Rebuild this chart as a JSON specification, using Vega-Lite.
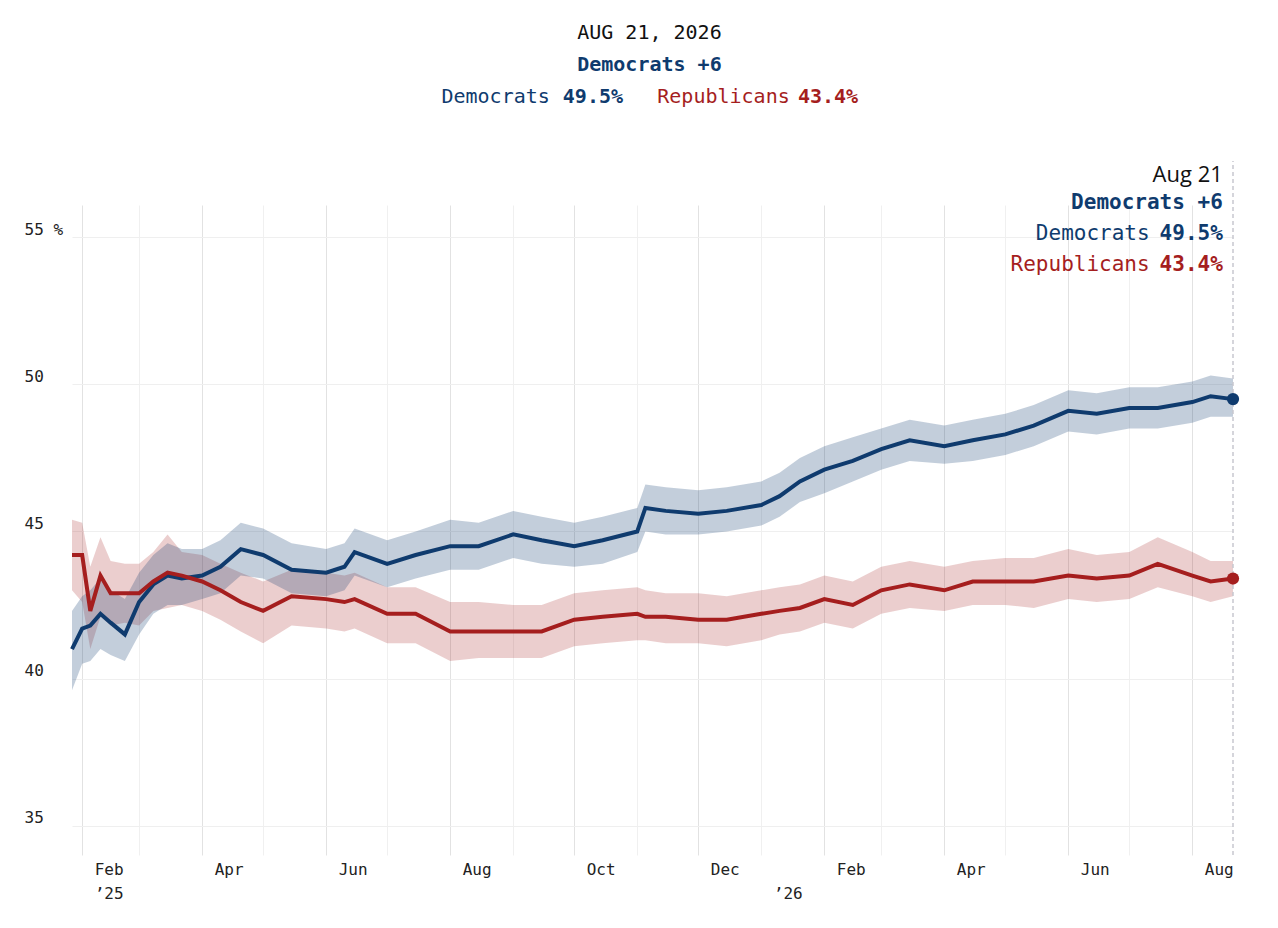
{
  "$schema": "https://vega.github.io/schema/vega-lite/v6.json",
  "width": 1161,
  "height": 650,
  "autosize": "none",
  "padding": {"left": 72, "top": 205, "right": 45, "bottom": 73},
  "config": {
    "font": "DejaVu Sans Mono",
    "view": {"stroke": null},
    "text": {"font": "DejaVu Sans Mono"}
  },
  "datasets": {
    "poll": [
      {"date": "2025-01-27", "dem": 41.0, "dlo": 39.6, "dhi": 42.3, "rep": 44.2, "rlo": 43.0, "rhi": 45.4},
      {"date": "2025-02-01", "dem": 41.7, "dlo": 40.5, "dhi": 42.8, "rep": 44.2, "rlo": 42.6, "rhi": 45.3},
      {"date": "2025-02-05", "dem": 41.8, "dlo": 40.6, "dhi": 43.0, "rep": 42.3, "rlo": 41.0, "rhi": 43.8},
      {"date": "2025-02-10", "dem": 42.2, "dlo": 41.0, "dhi": 43.4, "rep": 43.5, "rlo": 42.1, "rhi": 44.8},
      {"date": "2025-02-15", "dem": 41.9, "dlo": 40.8, "dhi": 43.0, "rep": 42.9, "rlo": 41.8, "rhi": 44.0},
      {"date": "2025-02-22", "dem": 41.5, "dlo": 40.6, "dhi": 42.7, "rep": 42.9, "rlo": 41.9, "rhi": 43.9},
      {"date": "2025-03-01", "dem": 42.6, "dlo": 41.5, "dhi": 43.6, "rep": 42.9, "rlo": 41.8, "rhi": 43.9},
      {"date": "2025-03-08", "dem": 43.2, "dlo": 42.2, "dhi": 44.2, "rep": 43.3, "rlo": 42.3, "rhi": 44.3},
      {"date": "2025-03-15", "dem": 43.5, "dlo": 42.5, "dhi": 44.6, "rep": 43.6, "rlo": 42.4, "rhi": 44.9},
      {"date": "2025-03-22", "dem": 43.4, "dlo": 42.5, "dhi": 44.4, "rep": 43.5, "rlo": 42.5, "rhi": 44.3},
      {"date": "2025-04-01", "dem": 43.5, "dlo": 42.7, "dhi": 44.4, "rep": 43.3, "rlo": 42.3, "rhi": 44.2},
      {"date": "2025-04-10", "dem": 43.8, "dlo": 42.9, "dhi": 44.7, "rep": 43.0, "rlo": 42.0, "rhi": 43.9},
      {"date": "2025-04-20", "dem": 44.4, "dlo": 43.5, "dhi": 45.3, "rep": 42.6, "rlo": 41.6, "rhi": 43.6},
      {"date": "2025-05-01", "dem": 44.2, "dlo": 43.4, "dhi": 45.1, "rep": 42.3, "rlo": 41.2, "rhi": 43.3},
      {"date": "2025-05-15", "dem": 43.7, "dlo": 42.9, "dhi": 44.6, "rep": 42.8, "rlo": 41.8, "rhi": 43.7},
      {"date": "2025-06-01", "dem": 43.6, "dlo": 42.8, "dhi": 44.4, "rep": 42.7, "rlo": 41.7, "rhi": 43.6},
      {"date": "2025-06-10", "dem": 43.8, "dlo": 43.0, "dhi": 44.6, "rep": 42.6, "rlo": 41.6, "rhi": 43.5},
      {"date": "2025-06-15", "dem": 44.3, "dlo": 43.5, "dhi": 45.1, "rep": 42.7, "rlo": 41.7, "rhi": 43.6},
      {"date": "2025-07-01", "dem": 43.9, "dlo": 43.1, "dhi": 44.7, "rep": 42.2, "rlo": 41.2, "rhi": 43.1},
      {"date": "2025-07-15", "dem": 44.2, "dlo": 43.4, "dhi": 45.0, "rep": 42.2, "rlo": 41.2, "rhi": 43.1},
      {"date": "2025-08-01", "dem": 44.5, "dlo": 43.7, "dhi": 45.4, "rep": 41.6, "rlo": 40.6, "rhi": 42.6},
      {"date": "2025-08-15", "dem": 44.5, "dlo": 43.7, "dhi": 45.3, "rep": 41.6, "rlo": 40.7, "rhi": 42.6},
      {"date": "2025-09-01", "dem": 44.9, "dlo": 44.1, "dhi": 45.7, "rep": 41.6, "rlo": 40.7, "rhi": 42.5},
      {"date": "2025-09-15", "dem": 44.7, "dlo": 43.9, "dhi": 45.5, "rep": 41.6, "rlo": 40.7, "rhi": 42.5},
      {"date": "2025-10-01", "dem": 44.5, "dlo": 43.8, "dhi": 45.3, "rep": 42.0, "rlo": 41.1, "rhi": 42.9},
      {"date": "2025-10-15", "dem": 44.7, "dlo": 43.9, "dhi": 45.5, "rep": 42.1, "rlo": 41.2, "rhi": 43.0},
      {"date": "2025-11-01", "dem": 45.0, "dlo": 44.3, "dhi": 45.8, "rep": 42.2, "rlo": 41.3, "rhi": 43.1},
      {"date": "2025-11-05", "dem": 45.8, "dlo": 45.0, "dhi": 46.6, "rep": 42.1, "rlo": 41.3, "rhi": 43.0},
      {"date": "2025-11-15", "dem": 45.7, "dlo": 44.9, "dhi": 46.5, "rep": 42.1, "rlo": 41.2, "rhi": 42.9},
      {"date": "2025-12-01", "dem": 45.6, "dlo": 44.9, "dhi": 46.4, "rep": 42.0, "rlo": 41.2, "rhi": 42.9},
      {"date": "2025-12-15", "dem": 45.7, "dlo": 45.0, "dhi": 46.5, "rep": 42.0, "rlo": 41.1, "rhi": 42.8},
      {"date": "2026-01-01", "dem": 45.9, "dlo": 45.2, "dhi": 46.7, "rep": 42.2, "rlo": 41.3, "rhi": 43.0},
      {"date": "2026-01-10", "dem": 46.2, "dlo": 45.5, "dhi": 47.0, "rep": 42.3, "rlo": 41.5, "rhi": 43.1},
      {"date": "2026-01-20", "dem": 46.7, "dlo": 46.0, "dhi": 47.5, "rep": 42.4, "rlo": 41.6, "rhi": 43.2},
      {"date": "2026-02-01", "dem": 47.1, "dlo": 46.3, "dhi": 47.9, "rep": 42.7, "rlo": 41.9, "rhi": 43.5},
      {"date": "2026-02-15", "dem": 47.4, "dlo": 46.7, "dhi": 48.2, "rep": 42.5, "rlo": 41.7, "rhi": 43.3},
      {"date": "2026-03-01", "dem": 47.8, "dlo": 47.1, "dhi": 48.5, "rep": 43.0, "rlo": 42.2, "rhi": 43.8},
      {"date": "2026-03-15", "dem": 48.1, "dlo": 47.4, "dhi": 48.8, "rep": 43.2, "rlo": 42.4, "rhi": 44.0},
      {"date": "2026-04-01", "dem": 47.9, "dlo": 47.3, "dhi": 48.6, "rep": 43.0, "rlo": 42.3, "rhi": 43.8},
      {"date": "2026-04-15", "dem": 48.1, "dlo": 47.4, "dhi": 48.8, "rep": 43.3, "rlo": 42.5, "rhi": 44.0},
      {"date": "2026-05-01", "dem": 48.3, "dlo": 47.6, "dhi": 49.0, "rep": 43.3, "rlo": 42.5, "rhi": 44.1},
      {"date": "2026-05-15", "dem": 48.6, "dlo": 47.9, "dhi": 49.3, "rep": 43.3, "rlo": 42.4, "rhi": 44.1},
      {"date": "2026-06-01", "dem": 49.1, "dlo": 48.4, "dhi": 49.8, "rep": 43.5, "rlo": 42.7, "rhi": 44.4},
      {"date": "2026-06-15", "dem": 49.0, "dlo": 48.3, "dhi": 49.7, "rep": 43.4, "rlo": 42.6, "rhi": 44.2},
      {"date": "2026-07-01", "dem": 49.2, "dlo": 48.5, "dhi": 49.9, "rep": 43.5, "rlo": 42.7, "rhi": 44.3},
      {"date": "2026-07-15", "dem": 49.2, "dlo": 48.5, "dhi": 49.9, "rep": 43.9, "rlo": 43.1, "rhi": 44.8},
      {"date": "2026-08-01", "dem": 49.4, "dlo": 48.7, "dhi": 50.1, "rep": 43.5, "rlo": 42.8, "rhi": 44.3},
      {"date": "2026-08-10", "dem": 49.6, "dlo": 48.9, "dhi": 50.3, "rep": 43.3, "rlo": 42.6, "rhi": 44.0},
      {"date": "2026-08-21", "dem": 49.5, "dlo": 48.9, "dhi": 50.2, "rep": 43.4, "rlo": 42.8, "rhi": 44.0}
    ],
    "one": [{}]
  },
  "layer": [
    {
      "data": {"name": "poll"},
      "mark": {"type": "area", "interpolate": "linear", "color": "#a51e1e", "opacity": 0.22},
      "encoding": {
        "x": {
          "field": "date", "type": "temporal",
          "scale": {"domain": ["2025-01-27", "2026-08-21"]},
          "axis": {
            "title": null, "domain": false, "ticks": false,
            "tickCount": {"interval": "month", "step": 1},
            "labelFontSize": 16, "labelColor": "#222", "labelAlign": "left", "labelOffset": 12, "labelPadding": 6,
            "labelLineHeight": 24,
            "gridColor": {"condition": {"test": "month(datum.value) % 2 == 1", "value": "#e2e2e2"}, "value": "#f0f0f0"},
            "labelExpr": "month(datum.value) == 1 && year(datum.value) == 2025 ? ['Feb', '\\u2019' + '25'] : (month(datum.value) == 0 && year(datum.value) == 2026 ? ['', '\\u2019' + '26'] : (month(datum.value) % 2 == 1 ? timeFormat(datum.value, '%b') : ''))"
          }
        },
        "y": {
          "field": "rlo", "type": "quantitative",
          "scale": {"domain": [34, 56.1], "nice": false, "zero": false},
          "axis": {
            "title": null, "domain": false, "ticks": false, "values": [35, 40, 45, 50, 55],
            "labelAlign": "left", "labelPadding": 48, "labelBaseline": "bottom",
            "labelFontSize": 16, "labelColor": "#222", "gridColor": "#efefef",
            "labelExpr": "datum.value == 55 ? '55 %' : datum.label"
          }
        },
        "y2": {"field": "rhi"}
      }
    },
    {"data": {"name": "poll"}, "mark": {"type": "area", "interpolate": "linear", "color": "#0f3b6e", "opacity": 0.25},
     "encoding": {"x": {"field": "date", "type": "temporal"}, "y": {"field": "dlo", "type": "quantitative"}, "y2": {"field": "dhi"}}},
    {"data": {"name": "poll"}, "mark": {"type": "line", "interpolate": "linear", "color": "#0f3b6e", "strokeWidth": 4},
     "encoding": {"x": {"field": "date", "type": "temporal"}, "y": {"field": "dem", "type": "quantitative"}}},
    {"data": {"name": "poll"}, "mark": {"type": "line", "interpolate": "linear", "color": "#a51e1e", "strokeWidth": 4},
     "encoding": {"x": {"field": "date", "type": "temporal"}, "y": {"field": "rep", "type": "quantitative"}}},
    {"data": {"name": "one"}, "mark": {"type": "rule", "color": "#c8c8d0", "strokeDash": [4, 3], "strokeWidth": 1.5, "clip": false},
     "encoding": {"x": {"datum": {"year": 2026, "month": 8, "date": 21}, "type": "temporal"}, "y": {"datum": 34, "type": "quantitative"}, "y2": {"datum": 57.6}}},
    {"data": {"name": "one"}, "mark": {"type": "point", "filled": true, "size": 150, "opacity": 1, "color": "#0f3b6e"},
     "encoding": {"x": {"datum": {"year": 2026, "month": 8, "date": 21}, "type": "temporal"}, "y": {"datum": 49.5, "type": "quantitative"}}},
    {"data": {"name": "one"}, "mark": {"type": "point", "filled": true, "size": 150, "opacity": 1, "color": "#a51e1e"},
     "encoding": {"x": {"datum": {"year": 2026, "month": 8, "date": 21}, "type": "temporal"}, "y": {"datum": 43.4, "type": "quantitative"}}},
    {"data": {"name": "one"}, "mark": {"type": "text", "fontSize": 22, "align": "right", "baseline": "middle", "color": "#111", "font": "Open Sans"},
     "encoding": {"x": {"datum": {"year": 2026, "month": 8, "date": 16}, "type": "temporal"}, "y": {"datum": 57.11, "type": "quantitative"}, "text": {"value": "Aug 21"}}},
    {"data": {"name": "one"}, "mark": {"type": "text", "fontSize": 21, "fontWeight": "bold", "align": "right", "baseline": "middle", "color": "#0f3b6e"},
     "encoding": {"x": {"datum": {"year": 2026, "month": 8, "date": 16}, "type": "temporal"}, "y": {"datum": 56.16, "type": "quantitative"}, "text": {"value": "Democrats +6"}}},
    {"data": {"name": "one"}, "mark": {"type": "text", "fontSize": 21, "fontWeight": "bold", "align": "right", "baseline": "middle", "color": "#0f3b6e"},
     "encoding": {"x": {"datum": {"year": 2026, "month": 8, "date": 16}, "type": "temporal"}, "y": {"datum": 55.1, "type": "quantitative"}, "text": {"value": "49.5%"}}},
    {"data": {"name": "one"}, "mark": {"type": "text", "fontSize": 21, "align": "right", "baseline": "middle", "color": "#0f3b6e"},
     "encoding": {"x": {"datum": {"year": 2026, "month": 7, "date": 11}, "type": "temporal"}, "y": {"datum": 55.1, "type": "quantitative"}, "text": {"value": "Democrats"}}},
    {"data": {"name": "one"}, "mark": {"type": "text", "fontSize": 21, "fontWeight": "bold", "align": "right", "baseline": "middle", "color": "#a51e1e"},
     "encoding": {"x": {"datum": {"year": 2026, "month": 8, "date": 16}, "type": "temporal"}, "y": {"datum": 54.05, "type": "quantitative"}, "text": {"value": "43.4%"}}},
    {"data": {"name": "one"}, "mark": {"type": "text", "fontSize": 21, "align": "right", "baseline": "middle", "color": "#a51e1e"},
     "encoding": {"x": {"datum": {"year": 2026, "month": 7, "date": 11}, "type": "temporal"}, "y": {"datum": 54.05, "type": "quantitative"}, "text": {"value": "Republicans"}}},
    {"data": {"name": "one"}, "mark": {"type": "text", "fontSize": 20, "align": "center", "baseline": "middle", "color": "#111"},
     "encoding": {"x": {"datum": {"year": 2025, "month": 11, "date": 7}, "type": "temporal"}, "y": {"datum": 61.94, "type": "quantitative"}, "text": {"value": "AUG 21, 2026"}}},
    {"data": {"name": "one"}, "mark": {"type": "text", "fontSize": 20, "fontWeight": "bold", "align": "center", "baseline": "middle", "color": "#0f3b6e"},
     "encoding": {"x": {"datum": {"year": 2025, "month": 11, "date": 7}, "type": "temporal"}, "y": {"datum": 60.85, "type": "quantitative"}, "text": {"value": "Democrats +6"}}},
    {"data": {"name": "one"}, "mark": {"type": "text", "fontSize": 20, "align": "right", "baseline": "middle", "color": "#0f3b6e"},
     "encoding": {"x": {"datum": {"year": 2025, "month": 9, "date": 19}, "type": "temporal"}, "y": {"datum": 59.76, "type": "quantitative"}, "text": {"value": "Democrats"}}},
    {"data": {"name": "one"}, "mark": {"type": "text", "fontSize": 20, "fontWeight": "bold", "align": "right", "baseline": "middle", "color": "#0f3b6e"},
     "encoding": {"x": {"datum": {"year": 2025, "month": 10, "date": 25}, "type": "temporal"}, "y": {"datum": 59.76, "type": "quantitative"}, "text": {"value": "49.5%"}}},
    {"data": {"name": "one"}, "mark": {"type": "text", "fontSize": 20, "align": "right", "baseline": "middle", "color": "#a51e1e"},
     "encoding": {"x": {"datum": {"year": 2026, "month": 1, "date": 15}, "type": "temporal"}, "y": {"datum": 59.76, "type": "quantitative"}, "text": {"value": "Republicans"}}},
    {"data": {"name": "one"}, "mark": {"type": "text", "fontSize": 20, "fontWeight": "bold", "align": "left", "baseline": "middle", "color": "#a51e1e"},
     "encoding": {"x": {"datum": {"year": 2026, "month": 1, "date": 19}, "type": "temporal"}, "y": {"datum": 59.76, "type": "quantitative"}, "text": {"value": "43.4%"}}}
  ]
}
